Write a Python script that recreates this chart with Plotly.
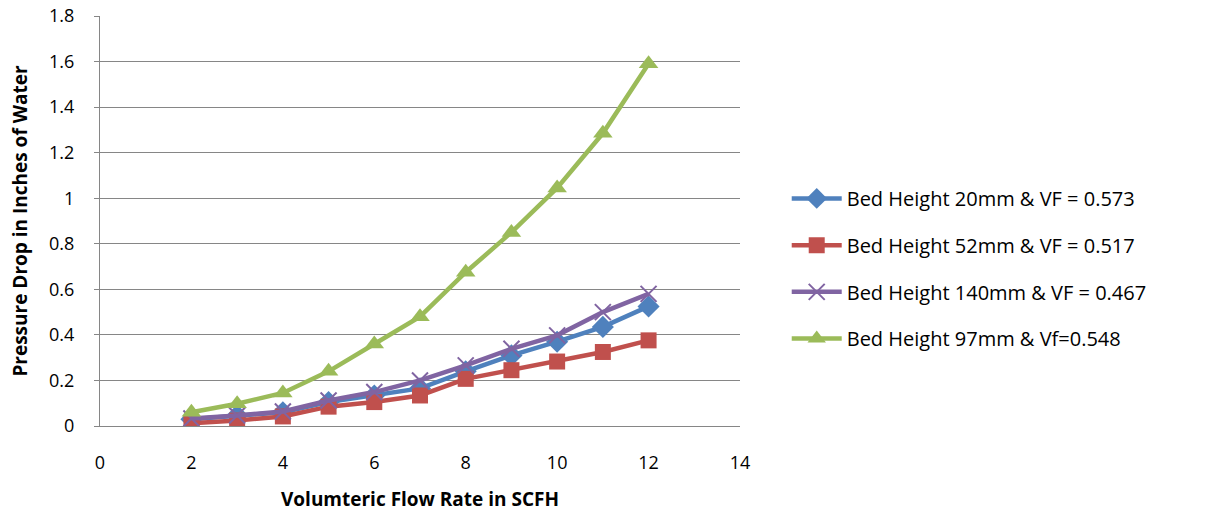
import plotly.graph_objects as go

flow = [2, 3, 4, 5, 6, 7, 8, 9, 10, 11, 12]
bed20 = [0.03, 0.046, 0.06, 0.105, 0.134, 0.165, 0.24, 0.31, 0.37, 0.435, 0.525]
bed52 = [0.012, 0.024, 0.042, 0.085, 0.105, 0.134, 0.207, 0.245, 0.283, 0.325, 0.376]
bed140 = [0.033, 0.046, 0.064, 0.112, 0.149, 0.2, 0.266, 0.339, 0.398, 0.5, 0.58]
bed97 = [0.06, 0.098, 0.145, 0.24, 0.36, 0.48, 0.675, 0.85, 1.045, 1.285, 1.59]

names = ["Bed Height 20mm & VF = 0.573", "Bed Height 52mm & VF = 0.517",
         "Bed Height 140mm & VF = 0.467", "Bed Height 97mm & Vf=0.548"]
series = [bed20, bed52, bed140, bed97]
colors = ["#4F81BD", "#C0504D", "#8064A2", "#9BBB59"]
symbols = ["diamond", "square", "x-thin-open", "triangle-up"]
sizes = [17, 16, 16, 17]

fig = go.Figure()
for i, (nm, ys) in enumerate(zip(names, series)):
    marker = dict(symbol=symbols[i], size=sizes[i], color=colors[i])
    if symbols[i] == "x-thin-open":
        marker["line"] = dict(color=colors[i], width=2)
    fig.add_trace(go.Scatter(x=flow, y=ys, name=nm, mode="lines+markers",
                             line=dict(color=colors[i], width=4.5),
                             marker=marker, legendgroup=str(i)))

font_family = "'Open Sans', Lato, sans-serif"
fig.update_layout(
    width=1207, height=515,
    margin=dict(l=100, r=467, t=16, b=89, autoexpand=False),
    paper_bgcolor="white", plot_bgcolor="white",
    font=dict(family=font_family, size=18, color="#000000"),
    legend=dict(x=1.073, y=0.383, xanchor="left", yanchor="middle",
                font=dict(size=20), tracegroupgap=17.7, itemwidth=50,
                bgcolor="rgba(0,0,0,0)"),
    xaxis=dict(range=[0, 14], dtick=2, showgrid=False, showline=True,
               linecolor="#868686", linewidth=1, ticks="", zeroline=False,
               tickfont=dict(size=18), automargin=False, ticklabelstandoff=20,
               title=dict(text="<b>Volumteric Flow Rate in SCFH</b>", font=dict(size=19), standoff=20)),
    yaxis=dict(range=[0, 1.8], dtick=0.2, showgrid=True, gridcolor="#868686",
               gridwidth=1, showline=True, linecolor="#868686", linewidth=1,
               ticks="outside", ticklen=5, tickcolor="#868686", zeroline=False,
               tickfont=dict(size=18), tickformat="~g", automargin=False,
               ticklabelstandoff=16,
               title=dict(text="<b>Pressure Drop in Inches of Water</b>", font=dict(size=19), standoff=16)),
)
fig.write_html("out.html")
